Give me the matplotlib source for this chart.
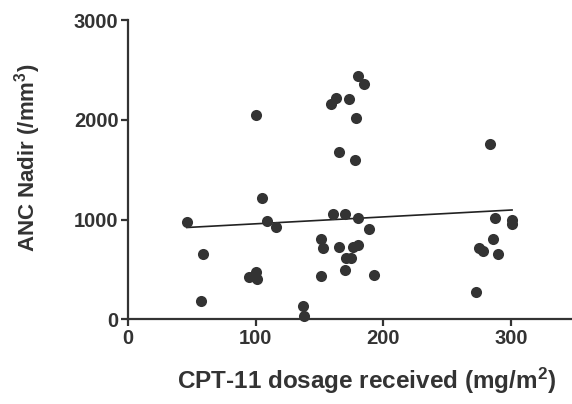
import numpy as np
import matplotlib
matplotlib.use('Agg')
import matplotlib.pyplot as plt

# CPT-11 dose (mg/m2) vs ANC nadir (/mm3)
dose = [46, 59, 57, 100, 105, 109, 116, 95, 100, 101, 137, 138,
        180, 185, 163, 159, 173, 179, 165, 178,
        161, 170, 180, 189, 151, 153, 165, 176, 180, 171, 175, 170, 151, 193,
        284, 288, 301, 301, 286, 275, 278, 290, 273]
anc = [970, 652, 184, 2049, 1220, 983, 926, 424, 474, 398, 133, 33,
       2444, 2364, 2224, 2157, 2207, 2023, 1678, 1595,
       1060, 1060, 1020, 900, 809, 719, 725, 725, 749, 615, 615, 498, 431, 441,
       1762, 1020, 993, 953, 802, 719, 685, 649, 271]

x_ticks = [0, 100, 200, 300]
y_ticks = [0, 1000, 2000, 3000]

plt.rcParams['font.family'] = ['Liberation Sans', 'DejaVu Sans']
plt.rcParams['font.weight'] = 'bold'
plt.rcParams['axes.labelweight'] = 'bold'
plt.rcParams['mathtext.fontset'] = 'custom'
plt.rcParams['mathtext.rm'] = 'Liberation Sans:bold'
plt.rcParams['mathtext.bf'] = 'Liberation Sans:bold'
plt.rcParams['mathtext.default'] = 'bf'

ink = '#333333'

fig = plt.figure(figsize=(5.72, 4.04), dpi=100)
ax = fig.add_axes([0.224, 0.21, 0.776, 0.74])

ax.plot(dose, anc, 'o', color=ink, markersize=8, markeredgewidth=0, clip_on=False, zorder=3)

# linear regression line over the range of the data
slope, icpt = np.polyfit(dose, anc, 1)
xs = np.array([min(dose), max(dose)])
ax.plot(xs, slope * xs + icpt, '-', color='#222222', linewidth=1.2, zorder=2)

ax.set_xlim(0, 348)
ax.set_ylim(0, 3000)
ax.set_xticks(x_ticks)
ax.set_yticks(y_ticks)
for s in ['top', 'right']:
    ax.spines[s].set_visible(False)
for s in ['left', 'bottom']:
    ax.spines[s].set_color(ink)
    ax.spines[s].set_linewidth(1.6)
ax.tick_params(direction='out', length=5, width=1.6, color=ink, labelcolor=ink, labelsize=14.5, pad=2)

ax.set_xlabel('CPT-11 dosage received (mg/m$^2$)', fontsize=17.5, color=ink)
ax.set_ylabel('ANC Nadir (/mm$^3$)', fontsize=16, color=ink)
ax.xaxis.set_label_coords(0.538, -0.155)
ax.yaxis.set_label_coords(-0.192, 0.54)

fig.savefig('out.png', dpi=100)
